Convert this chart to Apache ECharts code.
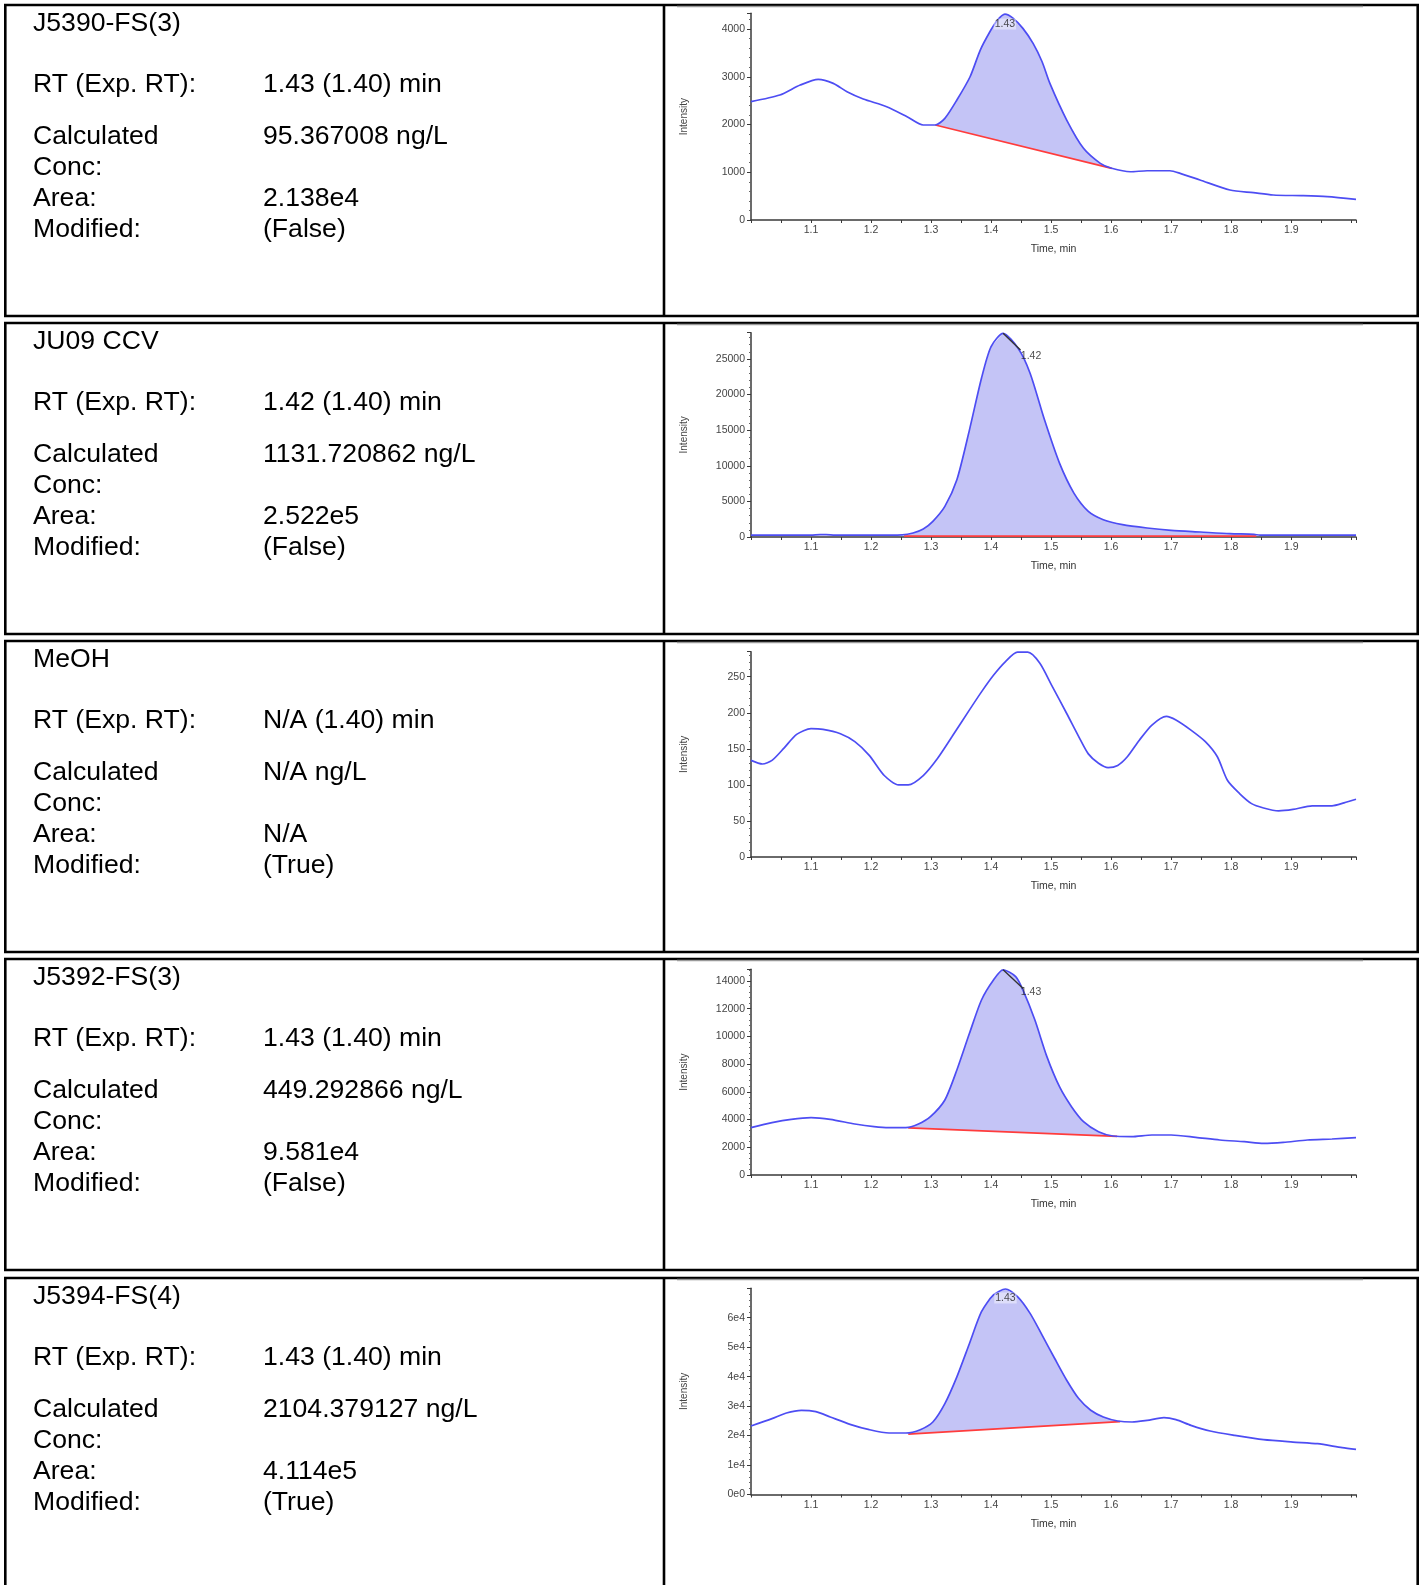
<!DOCTYPE html>
<html><head><meta charset="utf-8">
<script src="https://cdn.jsdelivr.net/npm/echarts@6/dist/echarts.min.js"></script>
<style>html,body{margin:0;padding:0;background:#fff;}#c{width:1423px;height:1585px;}</style>
</head><body><div id="c"></div>
<script>
// ---------- table texts ----------
const sampleNames = ['J5390-FS(3)', 'JU09 CCV', 'MeOH', 'J5392-FS(3)', 'J5394-FS(4)'];
const rtTexts = ['1.43 (1.40) min', '1.42 (1.40) min', 'N/A (1.40) min', '1.43 (1.40) min', '1.43 (1.40) min'];
const concTexts = ['95.367008 ng/L', '1131.720862 ng/L', 'N/A ng/L', '449.292866 ng/L', '2104.379127 ng/L'];
const areaTexts = ['2.138e4', '2.522e5', 'N/A', '9.581e4', '4.114e5'];
const modifiedTexts = ['(False)', '(False)', '(True)', '(False)', '(True)'];
const fieldLabels = ['RT (Exp. RT):', 'Calculated', 'Conc:', 'Area:', 'Modified:'];

// ---------- axis ticks ----------
const timeTickLabels = ['1.1', '1.2', '1.3', '1.4', '1.5', '1.6', '1.7', '1.8', '1.9'];
const yLabels1 = ['0', '1000', '2000', '3000', '4000'];
const yLabels2 = ['0', '5000', '10000', '15000', '20000', '25000'];
const yLabels3 = ['0', '50', '100', '150', '200', '250'];
const yLabels4 = ['0', '2000', '4000', '6000', '8000', '10000', '12000', '14000'];
const yLabels5 = ['0e0', '1e4', '2e4', '3e4', '4e4', '5e4', '6e4'];
const yIntervals = [1000, 5000, 50, 2000, 10000];
const yMaxes = [4330, 28690, 284.7, 14840, 69970];

// ---------- chromatograms ----------
const time1 = [1.000,1.048,1.082,1.112,1.137,1.160,1.187,1.226,1.260,1.287,1.307,1.323,1.343,1.365,1.382,1.398,1.410,1.423,1.437,1.453,1.470,1.485,1.498,1.526,1.554,1.582,1.601,1.632,1.660,1.698,1.715,1.748,1.798,1.837,1.870,1.920,1.960,2.008];
const intensity1 = [2480,2618,2827,2946,2862,2687,2534,2373,2164,1990,1990,2129,2513,3001,3560,3943,4180,4314,4224,4014,3700,3315,2862,2094,1501,1187,1083,1011,1032,1032,978,838,628,572,524,509,488,433];
const baseline1 = [[1.307, 1990], [1.601, 1083]];

const time2 = [1.000,1.100,1.115,1.125,1.140,1.200,1.252,1.270,1.287,1.303,1.323,1.343,1.364,1.384,1.400,1.420,1.445,1.465,1.489,1.514,1.538,1.562,1.587,1.619,1.660,1.700,1.749,1.798,1.838,1.848,1.900,2.008];
const intensity2 = [250,250,330,330,250,250,300,560,1120,2200,4300,8040,15050,22290,26730,28600,26500,22990,16450,10370,6170,3600,2430,1730,1260,935,700,467,374,250,250,250];
const baseline2 = [[1.255, 130], [1.842, 130]];
const apexLine2 = [[1.420, 28600], [1.449, 26260]];

const time3 = [1.000,1.019,1.035,1.055,1.076,1.100,1.120,1.149,1.173,1.197,1.222,1.246,1.262,1.287,1.311,1.335,1.364,1.384,1.404,1.424,1.444,1.461,1.481,1.501,1.526,1.546,1.562,1.579,1.595,1.611,1.627,1.647,1.668,1.692,1.708,1.733,1.757,1.777,1.794,1.814,1.834,1.854,1.879,1.903,1.935,1.968,1.988,2.008];
const intensity3 = [134,129,134,151,170,178,177,171,160,141,113,100,100,113,137,167,204,229,252,271,284,284,269,238,199,167,143,130,124,127,139,162,183,195,190,176,160,139,106,88,74,68,64,66,71,71,75,80];

const time4 = [1.000,1.035,1.067,1.100,1.132,1.173,1.205,1.230,1.258,1.278,1.299,1.323,1.343,1.364,1.384,1.404,1.420,1.441,1.453,1.473,1.493,1.514,1.534,1.554,1.579,1.603,1.634,1.668,1.700,1.741,1.781,1.822,1.854,1.887,1.927,1.968,2.008];
const intensity4 = [3415,3775,4015,4137,4015,3680,3487,3415,3415,3655,4209,5411,7576,10221,12626,14070,14800,14310,13350,11180,8540,6370,4930,3850,3125,2813,2766,2886,2886,2718,2525,2405,2285,2357,2525,2598,2694];
const baseline4 = [[1.262, 3400], [1.610, 2790]];
const apexLine4 = [[1.420, 14800], [1.453, 13470]];

const time5 = [1.000,1.035,1.059,1.084,1.108,1.132,1.165,1.197,1.230,1.258,1.282,1.303,1.323,1.343,1.364,1.384,1.404,1.424,1.444,1.465,1.485,1.506,1.526,1.546,1.566,1.587,1.611,1.635,1.660,1.688,1.708,1.733,1.765,1.806,1.854,1.903,1.944,1.985,2.008];
const intensity5 = [23250,25740,27670,28580,28120,26310,23810,22000,20870,20870,22000,24600,30840,39920,51260,62030,67700,69740,67130,61460,54090,46150,38780,32550,28580,26310,24950,24600,25170,26080,25400,23470,21550,20070,18600,17800,17240,15880,15310];
const baseline5 = [[1.262, 20500], [1.615, 24700]];

// peak apex labels: [time, intensity, text]
const peakLabel1 = [1.423, 4314, '1.43'];
const peakLabel2 = [1.420, 28600, '1.42'];
const peakLabel4 = [1.420, 14800, '1.43'];
const peakLabel5 = [1.424, 69740, '1.43'];

// ---------- layout (pixels) ----------
const rowTops = [5, 323, 641, 959, 1278];
const axisTops = [13.3, 332.7, 651.7, 969.3, 1288.3];
const axisBottoms = [220, 537, 857, 1175, 1494.5];

const charts = [
  {t: time1, v: intensity1, base: baseline1, apex: null, label: peakLabel1, lblOff: [0, 10], lblBg: true, yl: yLabels1},
  {t: time2, v: intensity2, base: baseline2, apex: apexLine2, label: peakLabel2, lblOff: [28, 23], lblBg: false, yl: yLabels2},
  {t: time3, v: intensity3, base: null, apex: null, label: null, yl: yLabels3},
  {t: time4, v: intensity4, base: baseline4, apex: apexLine4, label: peakLabel4, lblOff: [28, 22], lblBg: false, yl: yLabels4},
  {t: time5, v: intensity5, base: baseline5, apex: null, label: peakLabel5, lblOff: [0, 9], lblBg: true, yl: yLabels5}
];

const FONT = '"Liberation Sans", Arial, sans-serif';
const AXCOL = '#3a3a3a';
const FILL = '#c4c4f6';

const grids = [], xAxes = [], yAxes = [], series = [];
charts.forEach((c, i) => {
  grids.push({left: 751, right: 67, top: axisTops[i], height: axisBottoms[i] - axisTops[i], containLabel: false});
  xAxes.push({
    type: 'value', gridIndex: i, min: 1.0, max: 2.008, interval: 0.05,
    name: 'Time, min', nameLocation: 'middle', nameGap: 24,
    nameTextStyle: {fontFamily: FONT, fontSize: 10.5, color: '#333'},
    axisLine: {lineStyle: {color: AXCOL, width: 1.5}},
    axisTick: {show: true, length: 3, lineStyle: {color: AXCOL}},
    splitLine: {show: false},
    axisLabel: {
      fontFamily: FONT, fontSize: 10.5, color: '#444', margin: 5,
      showMinLabel: true, showMaxLabel: true,
      formatter: v => {
        const k = Math.round(v * 100);
        if (k % 10 !== 0) return '';
        const idx = k / 10 - 11;
        return (idx >= 0 && idx < timeTickLabels.length) ? timeTickLabels[idx] : '';
      }
    }
  });
  const iv = yIntervals[i];
  yAxes.push({
    type: 'value', gridIndex: i, min: 0, max: yMaxes[i], interval: iv,
    name: 'Intensity', nameLocation: 'middle', nameGap: 62, nameRotate: 90,
    nameTextStyle: {fontFamily: FONT, fontSize: 10, color: '#444'},
    axisLine: {show: true, lineStyle: {color: AXCOL, width: 1.5}},
    axisTick: {show: true, length: 4, lineStyle: {color: AXCOL}},
    minorTick: {show: true, splitNumber: 5, length: 2, lineStyle: {color: '#666'}},
    splitLine: {show: false},
    axisLabel: {
      fontFamily: FONT, fontSize: 10.5, color: '#444', margin: 6,
      formatter: v => {
        const q = v / iv;
        if (Math.abs(q - Math.round(q)) > 1e-6) return '';
        const idx = Math.round(q);
        return idx < c.yl.length ? c.yl[idx] : '';
      }
    }
  });
  const pts = c.t.map((t, k) => [t, c.v[k]]);
  if (c.base) {
    const bl = c.base, T = c.t, V = c.v;
    series.push({
      type: 'custom', xAxisIndex: i, yAxisIndex: i, silent: true, z: 1,
      data: [bl[0]],
      renderItem: (params, api) => {
        const poly = [api.coord(bl[0])];
        for (let k = 0; k < T.length; k++) {
          if (T[k] > bl[0][0] && T[k] < bl[1][0]) poly.push(api.coord([T[k], V[k]]));
        }
        poly.push(api.coord(bl[1]));
        return {type: 'polygon', shape: {points: poly, smooth: 0}, style: {fill: FILL, stroke: null}};
      }
    });
    series.push({
      type: 'line', xAxisIndex: i, yAxisIndex: i, data: bl, showSymbol: false, silent: true, z: 3,
      lineStyle: {color: '#ff3c3c', width: 1.7}
    });
  }
  series.push({
    type: 'line', xAxisIndex: i, yAxisIndex: i, data: pts, showSymbol: false, silent: true, z: 4,
    smooth: 0.25, lineStyle: {color: '#4d4df3', width: 1.7}
  });
  if (c.apex) {
    series.push({
      type: 'line', xAxisIndex: i, yAxisIndex: i, data: c.apex, showSymbol: false, silent: true, z: 5,
      lineStyle: {color: '#333', width: 1.4}
    });
  }
  if (c.label) {
    series.push({
      type: 'scatter', xAxisIndex: i, yAxisIndex: i, symbolSize: 1, silent: true, z: 6,
      itemStyle: {color: 'rgba(0,0,0,0)'},
      data: [[c.label[0], c.label[1]]],
      label: {
        show: true, position: 'inside', offset: c.lblOff, formatter: () => c.label[2],
        fontFamily: FONT, fontSize: 10.5, color: '#222',
        backgroundColor: c.lblBg ? 'rgba(255,255,255,0.55)' : 'transparent', padding: [0, 1]
      }
    });
  }
});

// ---------- table graphics ----------
const elements = [];
const textRowsRel = [79, 130.5, 161.5, 193, 223.5];
rowTops.forEach((top, i) => {
  const h = i === 4 ? 340 : 311;
  elements.push({type: 'rect', z: 50, silent: true, shape: {x: 5.3, y: top, width: 1412.4, height: h},
    style: {fill: null, stroke: '#000', lineWidth: 2.6}});
  elements.push({type: 'line', z: 50, silent: true, shape: {x1: 664, y1: top, x2: 664, y2: top + h},
    style: {stroke: '#000', lineWidth: 2.6}});
  elements.push({type: 'line', z: 51, silent: true, shape: {x1: 677, y1: top + 1.5, x2: 1363, y2: top + 1.5},
    style: {stroke: '#9a9a9a', lineWidth: 1.4}});
  const tx = (x, y, s) => elements.push({type: 'text', z: 60, silent: true, x: x, y: y,
    style: {text: s, fontSize: 26.6, fontFamily: FONT, fill: '#000', verticalAlign: 'middle', align: 'left'}});
  tx(33, top + 18.5, sampleNames[i]);
  fieldLabels.forEach((lab, k) => tx(33, top + textRowsRel[k] + 1, lab));
  tx(263, top + textRowsRel[0] + 1, rtTexts[i]);
  tx(263, top + textRowsRel[1] + 1, concTexts[i]);
  tx(263, top + textRowsRel[3] + 1, areaTexts[i]);
  tx(263, top + textRowsRel[4] + 1, modifiedTexts[i]);
});

const chart = echarts.init(document.getElementById('c'), null, {renderer: 'canvas'});
chart.setOption({
  animation: false,
  backgroundColor: '#fff',
  grid: grids, xAxis: xAxes, yAxis: yAxes, series: series,
  graphic: {elements: elements}
});
</script>
</body></html>
